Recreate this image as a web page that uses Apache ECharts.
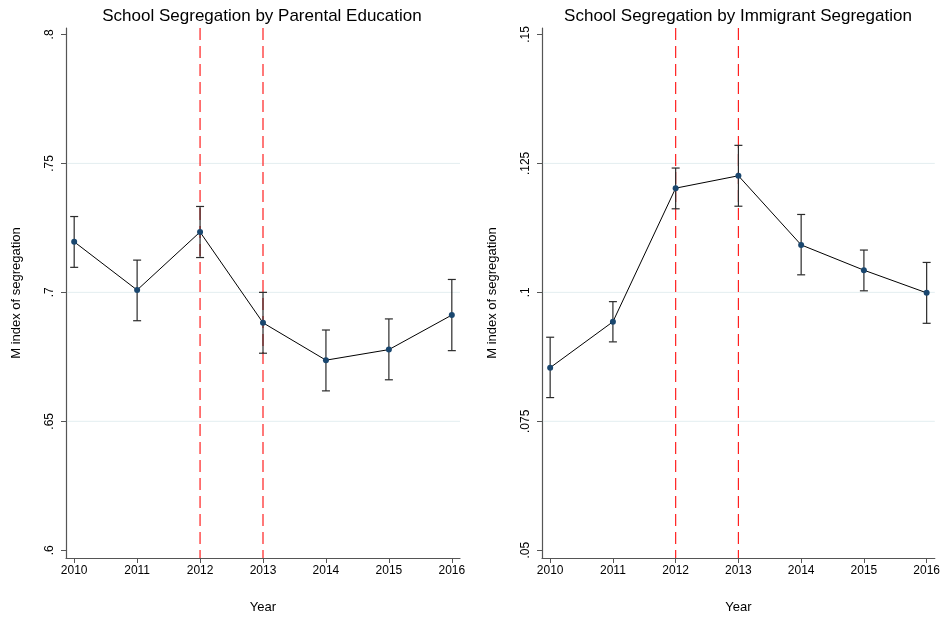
<!DOCTYPE html>
<html><head><meta charset="utf-8">
<script src="https://cdn.jsdelivr.net/npm/echarts@6/dist/echarts.min.js"></script>
<style>html,body{margin:0;padding:0;background:#fff}#c{width:943px;height:619px}</style>
</head><body><div id="c"></div><script>
const years = [2010, 2011, 2012, 2013, 2014, 2015, 2016];
const eduMean = [0.7196, 0.7009, 0.7234, 0.6882, 0.6737, 0.6778, 0.6912];
const eduLow  = [0.7097, 0.6890, 0.7135, 0.6764, 0.6618, 0.6661, 0.6774];
const eduHigh = [0.7294, 0.7125, 0.7333, 0.7000, 0.6854, 0.6897, 0.7050];
const immMean = [0.0854, 0.0943, 0.1202, 0.1226, 0.1092, 0.1043, 0.0999];
const immLow  = [0.0796, 0.0904, 0.1162, 0.1167, 0.1034, 0.1003, 0.0940];
const immHigh = [0.0913, 0.0982, 0.1241, 0.1285, 0.1151, 0.1082, 0.1058];
const eduTicks = [0.6, 0.65, 0.7, 0.75, 0.8];
const eduTickLabels = ['.6', '.65', '.7', '.75', '.8'];
const eduGridValues = [0.65, 0.7, 0.75];
const immTicks = [0.05, 0.075, 0.1, 0.125, 0.15];
const immTickLabels = ['.05', '.075', '.1', '.125', '.15'];
const immGridValues = [0.075, 0.1, 0.125];
const policyYears = [2012, 2013];
const titles = ['School Segregation by Parental Education', 'School Segregation by Immigrant Segregation'];
const yTitle = 'M index of segregation';
const xTitle = 'Year';

const chart = echarts.init(document.getElementById('c'), null, {renderer: 'canvas'});
const FONT = 'Liberation Sans, Helvetica, Arial, sans-serif';
const AXC = '#555';

function xAxisDef(idx) {
  return {
    type: 'value', gridIndex: idx, min: 2009.87, max: 2016.13,
    name: xTitle, nameLocation: 'middle', nameGap: 43,
    nameTextStyle: {fontFamily: FONT, fontSize: 13, color: '#000'},
    axisLine: {show: true, onZero: false, lineStyle: {color: AXC, width: 1.2}},
    axisTick: {show: true, length: 5, lineStyle: {color: AXC}, customValues: years},
    axisLabel: {fontFamily: FONT, fontSize: 12, color: '#000', margin: 7,
      customValues: years, formatter: v => String(Math.round(v))},
    splitLine: {show: false}
  };
}
function yAxisDef(idx, min, max, ticks, labels) {
  return {
    type: 'value', gridIndex: idx, min: min, max: max,
    name: yTitle, nameLocation: 'middle', nameGap: 43, nameRotate: 90,
    nameTextStyle: {fontFamily: FONT, fontSize: 13, color: '#000'},
    axisLine: {show: true, onZero: false, lineStyle: {color: AXC, width: 1.2}},
    axisTick: {show: true, length: 5, lineStyle: {color: AXC}, customValues: ticks},
    axisLabel: {fontFamily: FONT, fontSize: 12, color: '#000', margin: 10, rotate: 90,
      customValues: ticks, formatter: v => {
        const i = ticks.findIndex(t => Math.abs(t - v) < 1e-9);
        return i >= 0 ? labels[i] : '';
      }},
    splitLine: {show: false}
  };
}
function errRender(params, api) {
  const x = api.value(0), lo = api.value(1), hi = api.value(2);
  const a = api.coord([x, lo]), b = api.coord([x, hi]);
  const w = 4;
  const st = {stroke: '#2b2b2b', lineWidth: 1.2};
  return {type: 'group', children: [
    {type: 'line', shape: {x1: a[0], y1: a[1], x2: b[0], y2: b[1]}, style: st},
    {type: 'line', shape: {x1: a[0] - w, y1: a[1], x2: a[0] + w, y2: a[1]}, style: st},
    {type: 'line', shape: {x1: b[0] - w, y1: b[1], x2: b[0] + w, y2: b[1]}, style: st}
  ]};
}
function hGridRender(params, api) {
  const cs = params.coordSys;
  const p = api.coord([2012, api.value(0)]);
  return {type: 'line', shape: {x1: cs.x + 1, y1: p[1], x2: cs.x + cs.width, y2: p[1]},
    style: {stroke: '#e3eef0', lineWidth: 1}};
}
function vLineRender(params, api) {
  const cs = params.coordSys;
  const p = api.coord([api.value(0), 0]);
  return {type: 'line', shape: {x1: p[0], y1: cs.y, x2: p[0], y2: cs.y + cs.height},
    style: {stroke: '#ff2020', lineWidth: 1.2, lineDash: [12, 6]}};
}
function panelSeries(idx, mean, low, high, gridVals) {
  return [
    {type: 'custom', xAxisIndex: idx, yAxisIndex: idx, renderItem: hGridRender, z: 1, silent: true,
      data: gridVals.map(v => [v])},
    {type: 'custom', xAxisIndex: idx, yAxisIndex: idx, renderItem: vLineRender, z: 2, silent: true,
      data: policyYears.map(v => [v])},
    {type: 'custom', xAxisIndex: idx, yAxisIndex: idx, renderItem: errRender, z: 3,
      data: years.map((y, i) => [y, low[i], high[i]])},
    {type: 'line', xAxisIndex: idx, yAxisIndex: idx, z: 4,
      data: years.map((y, i) => [y, mean[i]]),
      symbol: 'circle', symbolSize: 6, showSymbol: true,
      lineStyle: {color: '#000', width: 1},
      itemStyle: {color: '#1a476f', borderWidth: 0}}
  ];
}

chart.setOption({
  animation: false,
  backgroundColor: '#fff',
  grid: [
    {left: 66, right: 483, top: 28, bottom: 60},
    {left: 542, right: 8, top: 28, bottom: 60}
  ],
  xAxis: [xAxisDef(0), xAxisDef(1)],
  yAxis: [
    yAxisDef(0, 0.597, 0.8025, eduTicks, eduTickLabels),
    yAxisDef(1, 0.0485, 0.15125, immTicks, immTickLabels)
  ],
  graphic: [
    {type: 'text', x: 262, y: 16, style: {text: titles[0], font: '17px ' + FONT, fill: '#000', align: 'center', verticalAlign: 'middle'}},
    {type: 'text', x: 738, y: 16, style: {text: titles[1], font: '17px ' + FONT, fill: '#000', align: 'center', verticalAlign: 'middle'}}
  ],
  series: [
    ...panelSeries(0, eduMean, eduLow, eduHigh, eduGridValues),
    ...panelSeries(1, immMean, immLow, immHigh, immGridValues)
  ]
});
</script></body></html>
